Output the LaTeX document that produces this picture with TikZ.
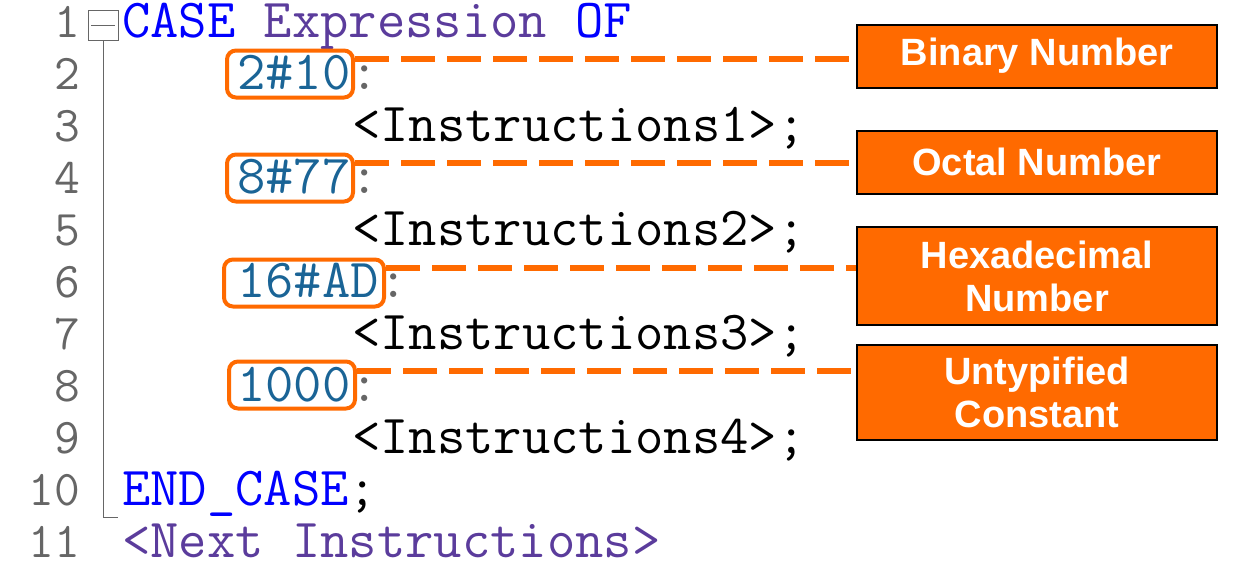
\documentclass[tikz,border=0pt]{standalone}
\usepackage{fontspec}
\setsansfont{Liberation Sans}
\definecolor{lnum}{HTML}{666666}
\definecolor{kw}{HTML}{0000FF}
\definecolor{ident}{HTML}{5B3C9C}
\definecolor{lit}{HTML}{1A6496}
\definecolor{hl}{HTML}{FF6A00}
\begin{document}
\begin{tikzpicture}[x=1pt,y=-1pt,
    code/.style={anchor=base west,inner sep=0pt,font=\fontsize{55}{55}\selectfont\ttfamily},
    lineno/.style={anchor=base east,inner sep=0pt,text=lnum,font=\fontsize{50}{50}\selectfont\ttfamily},
    hlbox/.style={draw=hl,line width=4pt,rounded corners=9pt,minimum height=47pt},
    tag/.style={draw=black,line width=2pt,fill=hl,text=white,minimum width=360pt,align=center,
      font=\fontsize{38}{43}\selectfont\sffamily\bfseries},
    lead/.style={draw=hl,line width=6pt,dash pattern=on 34pt off 12pt}]
  \useasboundingbox (0,0) rectangle (1260,573);
  % line numbers
  \foreach \n in {1,...,11}
    \node[lineno] (n\n) at (80,{37+52*(\n-1)}) {\n};
  % fold marker
  \draw[lnum] (88,10) rectangle (118,40);
  \draw[lnum] (91,25) -- (115,25);
  \draw[lnum] (103,40) -- (103,517) -- (118,517);
  % code
  \node[code] (l1) at (122,37) {\textcolor{kw}{CASE} \textcolor{ident}{Expression} \textcolor{kw}{OF}};
  \node[code,text=lit] (v2) at (237,89) {2\#10};
  \node[code,anchor=base west] at (v2.base east) {\textcolor{lnum}{:}};
  \node[code] (l3) at (352,141) {<Instructions1>;};
  \node[code,text=lit] (v4) at (237,193) {8\#77};
  \node[code,anchor=base west] at (v4.base east) {\textcolor{lnum}{:}};
  \node[code] (l5) at (352,245) {<Instructions2>;};
  \node[code,text=lit] (v6) at (237,297) {16\#AD};
  \node[code,anchor=base west] at (v6.base east) {\textcolor{lnum}{:}};
  \node[code] (l7) at (352,349) {<Instructions3>;};
  \node[code,text=lit] (v8) at (237,401) {1000};
  \node[code,anchor=base west] at (v8.base east) {\textcolor{lnum}{:}};
  \node[code] (l9) at (352,453) {<Instructions4>;};
  \node[code,text=kw] (l10) at (122,505) {END\_CASE\textcolor{black}{;}};
  \node[code,text=ident] (l11) at (122,557) {<Next Instructions>};
  % highlight boxes
  \node[hlbox,minimum width=126pt] (b2) at (290,74) {};
  \node[hlbox,minimum width=126pt] (b4) at (290,178) {};
  \node[hlbox,minimum width=160pt] (b6) at (304,283) {};
  \node[hlbox,minimum width=126pt] (b8) at (292,385) {};
  % labels
  \node[tag,minimum height=63pt] (t2) at (1037,56) {Binary Number};
  \node[tag,minimum height=63pt] (t4) at (1037,162) {Octal Number};
  \node[tag,minimum height=98pt] (t6) at (1037,276) {Hexadecimal\\Number};
  \node[tag,minimum height=95pt] (t8) at (1037,392) {Untypified\\Constant};
  % leaders
  \draw[lead] (b2.east |- 0,59) -- (t2.west |- 0,59);
  \draw[lead] (b4.east |- 0,163) -- (t4.west |- 0,163);
  \draw[lead] (b6.east |- 0,268) -- (t6.west |- 0,268);
  \draw[lead] (b8.east |- 0,371) -- (t8.west |- 0,371);
\end{tikzpicture}
\end{document}
